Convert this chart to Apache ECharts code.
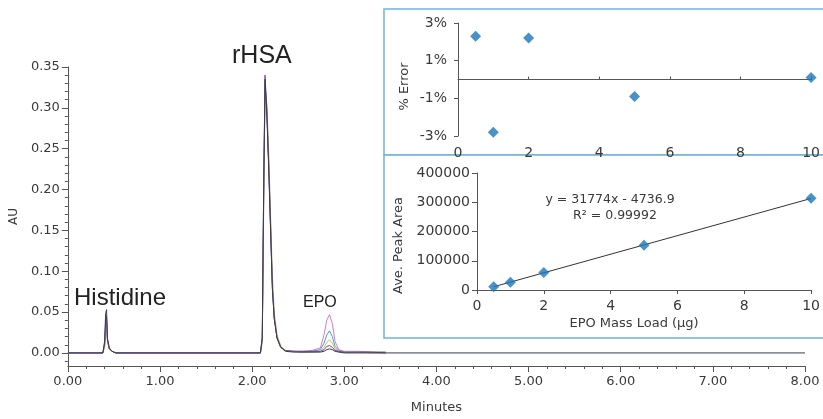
<!DOCTYPE html>
<html><head><meta charset="utf-8">
<script src="https://cdn.jsdelivr.net/npm/echarts@6/dist/echarts.min.js"></script>
<style>html,body{margin:0;padding:0;background:#fff}#c{width:823px;height:419px}</style>
</head><body><div id="c"></div>
<script>
// ---- Chromatogram data (minutes vs AU) ----
const minutes = [0.00, 0.38, 0.40, 0.41, 0.42, 0.43, 0.45, 0.48, 0.52, 2.09, 2.11, 2.125, 2.14, 2.16, 2.18, 2.20, 2.22, 2.24, 2.27, 2.31, 2.36, 2.45, 2.55, 2.65, 2.74, 2.78, 2.81, 2.84, 2.87, 2.90, 2.94, 3.00, 3.15, 3.30, 3.45, 8.00];
const auLoad10 = [0, 0, 0.008, 0.03, 0.038, 0.015, 0.005, 0.002, 0, 0, 0.015, 0.18, 0.325, 0.30, 0.235, 0.16, 0.085, 0.045, 0.02, 0.008, 0.003, 0.002, 0.002, 0.003, 0.006, 0.022, 0.040, 0.047, 0.036, 0.014, 0.004, 0.002, 0.002, 0.001, 0.001, null];
const auLoad5 = [0, 0, 0.01, 0.035, 0.042, 0.016, 0.005, 0.002, 0, 0, 0.016, 0.19, 0.33, 0.295, 0.23, 0.155, 0.08, 0.043, 0.019, 0.007, 0.003, 0.002, 0.001, 0.002, 0.004, 0.012, 0.022, 0.027, 0.02, 0.008, 0.003, 0.001, 0.001, 0.001, 0.001, null];
const auLoad2 = [0, 0, 0.008, 0.03, 0.036, 0.014, 0.004, 0.002, 0, 0, 0.012, 0.17, 0.32, 0.305, 0.245, 0.17, 0.095, 0.05, 0.022, 0.009, 0.003, 0.002, 0.001, 0.001, 0.002, 0.007, 0.013, 0.016, 0.012, 0.005, 0.002, 0.001, 0.001, 0, 0, null];
const auLoad1 = [0, 0, 0.012, 0.04, 0.045, 0.016, 0.005, 0.002, 0, 0, 0.02, 0.2, 0.34, 0.295, 0.23, 0.155, 0.08, 0.043, 0.019, 0.007, 0.003, 0.002, 0.002, 0.002, 0.002, 0.004, 0.008, 0.009, 0.007, 0.003, 0.002, 0.001, 0.001, 0.001, 0, null];
const auLoad05 = [0, 0, 0.015, 0.048, 0.053, 0.018, 0.006, 0.002, 0, 0, 0.018, 0.195, 0.335, 0.29, 0.225, 0.15, 0.078, 0.042, 0.018, 0.007, 0.002, 0.001, 0.001, 0.001, 0.001, 0.002, 0.004, 0.005, 0.004, 0.002, 0.001, 0, 0, 0, 0, 0];
const auTickLabels = [0, 0.05, 0.10, 0.15, 0.20, 0.25, 0.30, 0.35];

// ---- Calibration data ----
const massLoad = [0.5, 1, 2, 5, 10];
const pctError = [2.3, -2.8, 2.2, -0.9, 0.1];
const peakArea = [11400, 26300, 60100, 152800, 313400];
const trendX = [0.5, 10];
const trendY = [11150, 313003];
const equationText = 'y = 31774x - 4736.9';
const r2Text = 'R² = 0.99992';

const minorTicks = [];
for (let v = -1; v <= 35; v++) minorTicks.push(v / 100);

const F = 'DejaVu Sans';
const TXT = '#3a3a3a';
const AX = '#555';
const pair = (xs, ys) => xs.map((x, i) => [x, ys[i]]);

const traces = [
  { d: auLoad10, c: '#d67cc8' },
  { d: auLoad5, c: '#3a9ed0' },
  { d: auLoad2, c: '#c2c43c' },
  { d: auLoad1, c: '#7b3fa8' },
  { d: auLoad05, c: '#3a3a55' }
];

const chart = echarts.init(document.getElementById('c'), null, { renderer: 'canvas' });
chart.setOption({
  animation: false,
  backgroundColor: '#fff',
  textStyle: { fontFamily: F },
  grid: [
    { left: 64, right: 18, top: 67, bottom: 50 },
    { left: 458, right: 10, top: 23, height: 113 },
    { left: 477, right: 10, top: 173, height: 117 }
  ],
  xAxis: [
    { gridIndex: 0, type: 'value', min: 0, max: 8, interval: 1,
      name: 'Minutes', nameLocation: 'middle', nameGap: 35,
      nameTextStyle: { fontSize: 13, color: TXT, fontFamily: F },
      axisLine: { onZero: false, lineStyle: { color: AX } },
      axisTick: { length: 6, lineStyle: { color: AX } },
      minorTick: { show: true, splitNumber: 5, length: 3, lineStyle: { color: AX } },
      axisLabel: { margin: 9, fontSize: 13, color: TXT, fontFamily: F, formatter: v => v.toFixed(2) },
      splitLine: { show: false } },
    { gridIndex: 1, type: 'value', min: 0, max: 10, interval: 2,
      axisLine: { onZero: true, lineStyle: { color: AX } },
      axisTick: { inside: true, length: 3, lineStyle: { color: AX } },
      axisLabel: { margin: 10, fontSize: 14, color: TXT, fontFamily: F },
      splitLine: { show: false } },
    { gridIndex: 2, type: 'value', min: 0, max: 10, interval: 2,
      name: 'EPO Mass Load (µg)', nameLocation: 'middle', nameGap: 27,
      nameTextStyle: { fontSize: 13, color: TXT, fontFamily: F, padding: [0, 20, 0, 0] },
      axisLine: { lineStyle: { color: AX } },
      axisTick: { length: 4, lineStyle: { color: AX } },
      axisLabel: { margin: 9, fontSize: 14, color: TXT, fontFamily: F },
      splitLine: { show: false } }
  ],
  yAxis: [
    { gridIndex: 0, type: 'value', position: 'left', min: -0.016, max: 0.35,
      name: 'AU', nameLocation: 'middle', nameGap: 41,
      nameTextStyle: { fontSize: 12, color: TXT, fontFamily: F },
      axisLine: { show: true, lineStyle: { color: AX } },
      axisTick: { show: true, length: 6, customValues: auTickLabels, lineStyle: { color: AX } },
      axisLabel: { margin: 8, fontSize: 13, color: TXT, fontFamily: F, customValues: auTickLabels, formatter: v => v.toFixed(2) },
      splitLine: { show: false } },
    { gridIndex: 0, type: 'value', position: 'left', offset: 0, min: -0.016, max: 0.35,
      axisLine: { show: false },
      axisTick: { show: true, length: 3, customValues: minorTicks, lineStyle: { color: AX } },
      axisLabel: { show: false },
      splitLine: { show: false } },
    { gridIndex: 1, type: 'value', min: -3, max: 3, interval: 2,
      name: '% Error', nameLocation: 'middle', nameGap: 47,
      nameTextStyle: { fontSize: 13, color: TXT, fontFamily: F, padding: [0, 0, 0, -14] },
      axisLine: { show: true, lineStyle: { color: AX } },
      axisTick: { show: true, length: 4, lineStyle: { color: AX } },
      axisLabel: { margin: 11, fontSize: 14, color: TXT, fontFamily: F, formatter: v => Math.round(v) + '%' },
      splitLine: { show: false } },
    { gridIndex: 2, type: 'value', min: 0, max: 400000, interval: 100000,
      name: 'Ave. Peak Area', nameLocation: 'middle', nameGap: 72,
      nameTextStyle: { fontSize: 13, color: TXT, fontFamily: F, padding: [0, 0, 0, -28] },
      axisLine: { show: true, lineStyle: { color: AX } },
      axisTick: { show: true, length: 5, lineStyle: { color: AX } },
      axisLabel: { margin: 7, fontSize: 14, color: TXT, fontFamily: F, formatter: v => String(Math.round(v)) },
      splitLine: { show: false } }
  ],
  graphic: [
    { type: 'rect', z: -1, shape: { x: 384, y: 9, width: 460, height: 146 },
      style: { fill: '#fff', stroke: '#6fb4d6', lineWidth: 1.5 } },
    { type: 'rect', z: -1, shape: { x: 384, y: 155, width: 460, height: 183 },
      style: { fill: '#fff', stroke: '#6fb4d6', lineWidth: 1.5 } },
    { type: 'text', x: 232, y: 56, style: { text: 'rHSA', font: '25px "Liberation Sans", Arial', fill: '#222', verticalAlign: 'middle', textVerticalAlign: 'middle' } },
    { type: 'text', x: 74, y: 298, style: { text: 'Histidine', font: '24px "Liberation Sans", Arial', fill: '#222', verticalAlign: 'middle', textVerticalAlign: 'middle' } },
    { type: 'text', x: 303, y: 303, style: { text: 'EPO', font: '16px "Liberation Sans", Arial', fill: '#222', verticalAlign: 'middle', textVerticalAlign: 'middle' } },
    { type: 'text', x: 610, y: 200, style: { text: equationText, font: '12.5px "DejaVu Sans"', fill: TXT, align: 'center', textAlign: 'center', verticalAlign: 'middle', textVerticalAlign: 'middle' } },
    { type: 'text', x: 615, y: 216, style: { text: r2Text, font: '12.5px "DejaVu Sans"', fill: TXT, align: 'center', textAlign: 'center', verticalAlign: 'middle', textVerticalAlign: 'middle' } }
  ],
  series: [
    ...traces.map(t => ({
      type: 'line', xAxisIndex: 0, yAxisIndex: 0, data: pair(minutes, t.d),
      showSymbol: false, symbol: 'none', connectNulls: false,
      lineStyle: { width: 1, color: t.c }, itemStyle: { color: t.c }, z: 3
    })),
    { type: 'scatter', xAxisIndex: 1, yAxisIndex: 2, data: pair(massLoad, pctError),
      symbol: 'diamond', symbolSize: 11, itemStyle: { color: '#1b75bb' }, z: 5 },
    { type: 'line', xAxisIndex: 2, yAxisIndex: 3, data: pair(trendX, trendY),
      symbol: 'none', lineStyle: { width: 1, color: '#333' }, z: 4 },
    { type: 'scatter', xAxisIndex: 2, yAxisIndex: 3, data: pair(massLoad, peakArea),
      symbol: 'diamond', symbolSize: 11, itemStyle: { color: '#1b75bb' }, z: 5 }
  ]
});
</script></body></html>
